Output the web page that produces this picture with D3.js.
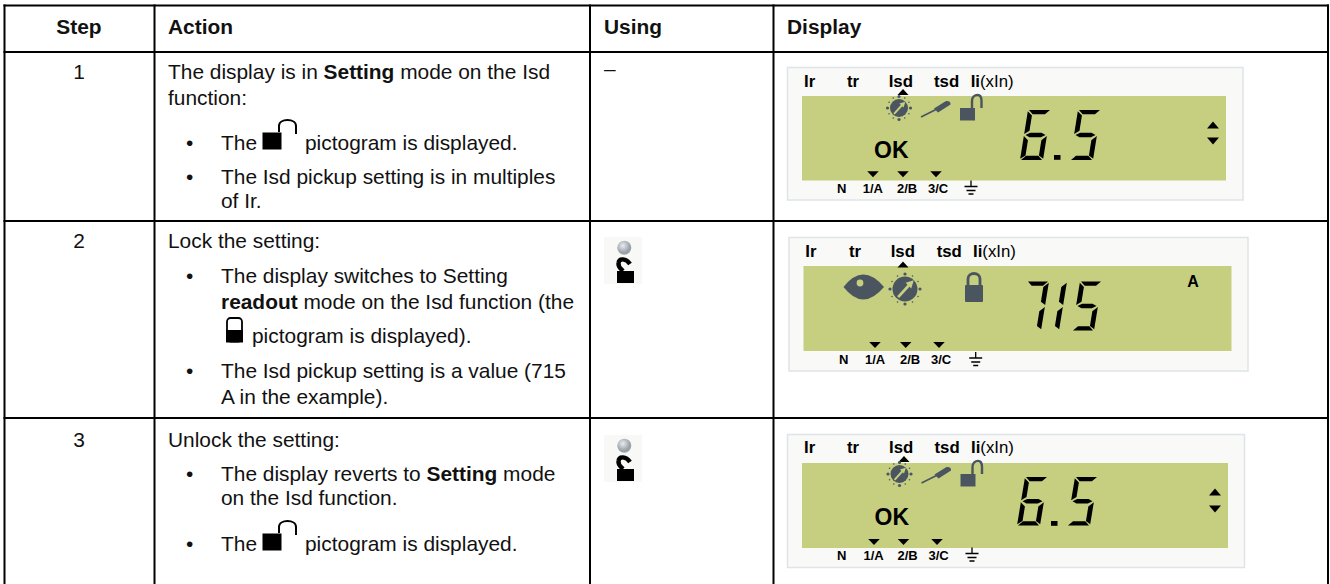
<!DOCTYPE html>
<html><head><meta charset="utf-8">
<style>html,body{margin:0;padding:0;background:#fff}svg{display:block}text{font-family:"Liberation Sans",Arial,sans-serif}</style>
<script src="https://cdn.jsdelivr.net/npm/d3@7"></script>
</head><body><svg id="c" width="1330" height="584"></svg>
<script>
const headers = ["Step","Action","Using","Display"];
const steps = ["1","2","3"];
const bulletMark = "•";
const row1Intro = [[["The display is in "],["Setting",1],[" mode on the Isd"]],[["function:"]]];
const row1Bullet1 = [["The"]], row1Bullet1b = [["pictogram is displayed."]];
const row1Bullet2 = [[["The Isd pickup setting is in multiples"]],[["of Ir."]]];
const row2Intro = [[["Lock the setting:"]]];
const row2Bullet1 = [[["The display switches to Setting"]],[["readout",1],[" mode on the Isd function (the"]]];
const row2Bullet1c = [["pictogram is displayed)."]];
const row2Bullet2 = [[["The Isd pickup setting is a value (715"]],[["A in the example)."]]];
const row3Intro = [[["Unlock the setting:"]]];
const row3Bullet1 = [[["The display reverts to "],["Setting",1],[" mode"]],[["on the Isd function."]]];
const row3Bullet2 = [["The"]], row3Bullet2b = [["pictogram is displayed."]];
const usingDash = "–";
const functionLabels = ["Ir","tr","Isd","tsd","Ii"];
const functionSuffix = "(xIn)";
const phaseLabels = ["N","1/A","2/B","3/C"];
const readings = ["6.5","715","6.5"];

const svg = d3.select("#c");
const black = "#000", ink = "#111", lcd = "#c6cf80", icon = "#4a5560";

// table grid
const colEdges = [4.5,154.5,590,773.5,1328];
const rowEdges = [5.5,52,221,418];
const gridV = svg.append("g").attr("stroke",black).attr("stroke-width",2);
colEdges.forEach(x=>gridV.append("line").attr("x1",x).attr("x2",x).attr("y1",4.5).attr("y2",584));
rowEdges.forEach(y=>gridV.append("line").attr("x1",3.5).attr("x2",1329).attr("y1",y).attr("y2",y));

function txt(x,y,segs,opt={}){
  const t = svg.append("text").attr("x",x).attr("y",y).attr("fill",opt.fill||ink)
    .attr("font-size",opt.size||20.9).attr("text-anchor",opt.anchor||"start");
  segs.forEach(s=>t.append("tspan").attr("font-weight",(s[1]||opt.bold)?"700":"400").text(s[0]));
  return t;
}
function block(x,y,lines,lh){lines.forEach((l,i)=>txt(x,y+i*lh,l));}
function bullet(y){txt(186,y,[[bulletMark]]);}

// headers
const headerX = [79,168,604,787];
headers.forEach((h,i)=>txt(headerX[i],34,[[h]],{bold:1,anchor:i==0?"middle":"start"}));
const stepY=[79,248,447];
steps.forEach((s,i)=>txt(79,stepY[i],[[s]],{anchor:"middle"}));
txt(604,76,[[usingDash]]);

// action text
block(168,79,row1Intro,26);
bullet(150);txt(221,150,row1Bullet1);txt(305,150,row1Bullet1b);
bullet(184);block(221,184,row1Bullet2,24);
block(168,248,row2Intro,24);
bullet(283);block(221,283,row2Bullet1,26);
txt(252,343,row2Bullet1c);
bullet(378);block(221,378,row2Bullet2,26);
block(168,447,row3Intro,24);
bullet(481);block(221,481,row3Bullet1,24);
bullet(551);txt(221,551,row3Bullet2);txt(305,551,row3Bullet2b);

// inline pictograms
function openLockInline(dy){
  const g=svg.append("g").attr("transform",`translate(0,${dy})`);
  g.append("rect").attr("x",262.5).attr("y",132.5).attr("width",19).attr("height",17).attr("fill",black);
  g.append("path").attr("d","M279,132 V126 C279,122 283,120 287.5,120 C292,120 296,122 296,126 V134").attr("fill","none").attr("stroke",black).attr("stroke-width",2);
}
openLockInline(0);openLockInline(401);
const cl=svg.append("g");
cl.append("rect").attr("x",227).attr("y",318).attr("width",15).attr("height",23.5).attr("rx",3.5).attr("fill","#fff").attr("stroke",black).attr("stroke-width",1.8);
cl.append("rect").attr("x",226).attr("y",330).attr("width",17).attr("height",12.5).attr("fill",black);

// using column icons
const sphere=svg.append("defs").append("radialGradient").attr("id","sph").attr("cx","40%").attr("cy","35%");
sphere.append("stop").attr("offset","0%").attr("stop-color","#e8ecef");
sphere.append("stop").attr("offset","100%").attr("stop-color","#9aa2a8");
function usingIcon(dy){
  const g=svg.append("g").attr("transform",`translate(0,${dy})`);
  g.append("rect").attr("x",604).attr("y",237).attr("width",38).attr("height",47).attr("fill","#f8f8f6");
  g.append("circle").attr("cx",624.3).attr("cy",247.7).attr("r",7).attr("fill","url(#sph)");
  g.append("rect").attr("x",617).attr("y",271).attr("width",17).attr("height",12).attr("fill",black);
  g.append("path").attr("d","M630,264 C626,258 619,258 618.5,263 C618,267 620,268 623,271").attr("fill","none").attr("stroke",black).attr("stroke-width",4.4);
}
usingIcon(0);usingIcon(198);

// LCD panels
const digitSegs={"1":"bc","5":"afgcd","6":"afgedc","7":"abc"};
function drawDigit(g,ch,x0,y0,w,h,s,t){
  const P=(u,v)=>[x0+u+(1-v/h)*s, y0+v];
  const L=d3.line();
  const m=h/2, c=1, th=t*.9;
  const hz=(v1,v2,i)=>[P(c,v1),P(w-c,v1),P(w-c-i,v2),P(c+i,v2)];
  const vt=(u,v1,v2,dir)=>[P(u,v1),P(u+dir*t,v1+t*.9),P(u+dir*t,v2-t*.7),P(u,v2)];
  const segs={
    a:hz(0,th,th),
    d:hz(h,h-th,th),
    g:[P(1.5,m),P(t+1,m-th/2),P(w-t-1,m-th/2),P(w-1.5,m),P(w-t-1,m+th/2),P(t+1,m+th/2)],
    f:vt(0,1.2,m-1,1), e:vt(0,m+1,h-1.2,1),
    b:vt(w,1.2,m-1,-1), c:vt(w,m+1,h-1.2,-1)
  };
  digitSegs[ch].split("").forEach(k=>g.append("path").attr("d",L(segs[k])+"Z").attr("fill",black));
}
function tri(g,x,y,w,h,up){
  const L=d3.line();
  g.append("path").attr("d",L(up?[[x-w/2,y+h/2],[x+w/2,y+h/2],[x,y-h/2]]:[[x-w/2,y-h/2],[x+w/2,y-h/2],[x,y+h/2]])+"Z").attr("fill",black);
}
function ground(g,x,y){
  g.append("path").attr("d",`M${x},${y} V${y+6} M${x-6.5},${y+6} H${x+6.5} M${x-4.5},${y+10} H${x+4.5} M${x-2.5},${y+13.5} H${x+2.5}`).attr("stroke",black).attr("stroke-width",1.3).attr("fill","none");
}
function gauge(g,cx,cy,r){
  d3.range(12).forEach(i=>{const a=i*Math.PI/6;g.append("circle").attr("cx",cx+Math.cos(a)*(r+2.5)).attr("cy",cy+Math.sin(a)*(r+2.5)).attr("r",i%3==0?1.6:.8).attr("fill",icon);});
  g.append("circle").attr("cx",cx).attr("cy",cy).attr("r",r).attr("fill",icon);
  g.append("path").attr("d",`M${cx-r*.55},${cy+r*.65} L${cx+r*.5},${cy-r*.5}`).attr("stroke",lcd).attr("stroke-width",r*.22);
  g.append("path").attr("d",d3.line()([[cx+r*.7,cy-r*.7],[cx+r*.05,cy-r*.5],[cx+r*.5,cy-r*.05]])+"Z").attr("fill",lcd);
}
function openLock(g,x,y){
  g.append("rect").attr("x",x).attr("y",y+13).attr("width",15).attr("height",12.5).attr("fill",icon);
  g.append("path").attr("d",`M${x+12},${y+13} V${y+6} C${x+12},${y+1.5} ${x+15},${y} ${x+17.5},${y} C${x+20},${y} ${x+21.5},${y+2} ${x+21.5},${y+6} V${y+13}`).attr("fill","none").attr("stroke",icon).attr("stroke-width",2.4);
}
function driver(g,x,y){
  g.append("path").attr("d",`M${x},${y+16} L${x+16},${y+8}`).attr("stroke",icon).attr("stroke-width",1.8);
  g.append("path").attr("d",`M${x+13},${y+7.5} L${x+25},${y} Q${x+30},${y-.5} ${x+29.5},${y+3.5} L${x+17},${y+11.5}Z`).attr("fill",icon);
}
const labelFont=16.8;
const panels=[
 {box:[787.5,67.5,455.5,132.5],lcd:[802,96,424,84.5],lx:[804,847,888.7,934,970.7],ly:86.7,
  arrow:[903,92],px:[837,862.7,897,928],py:192.7,tx:[873,903,936],ty:174.3,gx:971,gy:180.5},
 {box:[789,237.5,459,133.5],lcd:[803.5,266,428,85],lx:[805.3,849,890.7,936.7,973],ly:256.7,
  arrow:[903,264.5],px:[839,865,900,931],py:364,tx:[875,905.7,939],ty:345,gx:975.7,gy:352},
 {box:[787.5,434.5,457,133],lcd:[802,463,426,85],lx:[804,847,889,934.5,971],ly:453.3,
  arrow:[904,459],px:[837,863.5,897.5,928.5],py:559.5,tx:[874,903.5,937],ty:542,gx:972,gy:547.5}
];
const digitPos=[
 {x:[1020,1070],dot:[1054,155],y:110,h:50,w:23,s:8,t:4.8},
 {x:[1019,1037,1072],y:281.5,h:49,w:22,s:8,t:4.8},
 {x:[1017,1067],dot:[1051,521],y:477,h:48.5,w:23,s:8,t:4.8}
];
panels.forEach((p,i)=>{
  const g=svg.append("g");
  g.append("rect").attr("x",p.box[0]).attr("y",p.box[1]).attr("width",p.box[2]).attr("height",p.box[3]).attr("fill","#f9f9f7").attr("stroke","#e0e4e6").attr("stroke-width",1.5);
  g.append("rect").attr("x",p.lcd[0]).attr("y",p.lcd[1]).attr("width",p.lcd[2]).attr("height",p.lcd[3]).attr("fill",lcd);
  functionLabels.forEach((l,j)=>{
    const t=g.append("text").attr("x",p.lx[j]).attr("y",p.ly).attr("font-size",labelFont).attr("fill",black).attr("font-weight",700).text(l);
    if(j==4)t.append("tspan").attr("font-weight",400).text(functionSuffix);
  });
  tri(g,p.arrow[0],p.arrow[1],11,6,true);
  phaseLabels.forEach((l,j)=>g.append("text").attr("x",p.px[j]).attr("y",p.py).attr("font-size",13).attr("font-weight",700).attr("fill",black).text(l));
  p.tx.forEach(x=>tri(g,x,p.ty,11.5,6,false));
  ground(g,p.gx,p.gy);
  const d=digitPos[i];
  let k=0;
  readings[i].split("").forEach(ch=>{
    if(ch=="."){g.append("rect").attr("x",d.dot[0]).attr("y",d.dot[1]).attr("width",6.5).attr("height",4.8).attr("fill",black);}
    else{drawDigit(g,ch,d.x[k],d.y,d.w,d.h,d.s,d.t);k++;}
  });
});
// panel-specific glyphs
const g1=svg.append("g");
[[0,0,1213,125,141],[0.5,367,1215,492,509]].forEach(([dx,dy,ax,ay1,ay2])=>{
  gauge(g1,899+dx,108+dy-(dy?1:0),9);
  driver(g1,921+dx,101+dy-(dy?1:0));
  openLock(g1,960+dx,95+dy-(dy?1:0));
  g1.append("text").attr("x",874+dx).attr("y",157.5+dy).attr("font-size",23).attr("font-weight",700).attr("fill",black).text("OK");
  tri(g1,ax,ay1,12,7,true);tri(g1,ax,ay2,12,7,false);
});
const g2=svg.append("g");
g2.append("path").attr("d","M843.5,287 Q863,262 884,287 Q863,312 843.5,287Z").attr("fill",icon);
g2.append("circle").attr("cx",860).attr("cy",283).attr("r",3.4).attr("fill",lcd);
gauge(g2,905,289,12.5);
g2.append("rect").attr("x",965).attr("y",285).attr("width",18).attr("height",17).attr("rx",1).attr("fill",icon);
g2.append("path").attr("d","M968,286 V279 C968,275 971,273.5 974,273.5 C977,273.5 980,275 980,279 V286").attr("fill","none").attr("stroke",icon).attr("stroke-width",2.8);
g2.append("text").attr("x",1193).attr("y",287).attr("text-anchor","middle").attr("font-size",16).attr("font-weight",700).attr("fill",black).text("A");
</script></body></html>
